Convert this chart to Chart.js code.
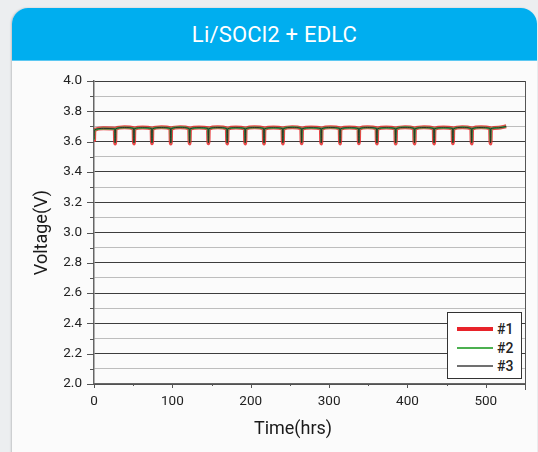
<!DOCTYPE html>
<html>
<head>
<meta charset="utf-8">
<script src="https://cdn.jsdelivr.net/npm/chart.js@4/dist/chart.umd.min.js"></script>
<style>
  html, body { margin: 0; padding: 0; }
  body { width: 538px; height: 452px; overflow: hidden; background: #eceef0; position: relative; font-family: Roboto, "DejaVu Sans", sans-serif; }
  .card { position: absolute; left: 12px; top: 8px; width: 525px; height: 470px; border-radius: 16px; background: #fbfbfb; box-shadow: -1px 0 2px rgba(0,0,0,0.18); overflow: hidden; }
  .card-head { height: 52px; background: #00aeef; color: #fff; text-align: center; font-size: 22px; line-height: 54px; border-bottom: 1px solid #5cc8f2; letter-spacing: 0.2px; }
  #chart { position: absolute; left: 0; top: 0; }
  #legend { position: absolute; background: #fff; border: 1px solid #333; box-sizing: border-box; padding-top: 7px; }
  #legend .row { display: flex; align-items: center; height: 18.5px; }
  #legend .swatch { width: 36px; margin-left: 9px; margin-right: 4px; }
  #legend .lbl { font-size: 14px; font-weight: 500; color: #222; }
</style>
</head>
<body>
<div class="card"><div class="card-head">Li/SOCl2 + EDLC</div></div>
<canvas id="chart" width="538" height="452"></canvas>
<div id="legend"></div>
<script>
// Elapsed time (hrs); each cell cycle: pulse dip, recovery, crest, pre-pulse level
const hours = [
  0, 0.5, 12, 26.5,
  27, 27.5, 39, 50.5,
  51, 51.5, 62, 73.5,
  74, 74.5, 86, 97.5,
  98, 98.5, 110, 121.5,
  122, 122.5, 134, 145.5,
  146, 146.5, 158, 169.5,
  170, 170.5, 181, 192.5,
  193, 193.5, 205, 216.5,
  217, 217.5, 229, 240.5,
  241, 241.5, 253, 264.5,
  265, 265.5, 277, 289.5,
  290, 290.5, 302, 313.5,
  314, 314.5, 326, 337.5,
  338, 338.5, 349, 360.5,
  361, 361.5, 373, 384.5,
  385, 385.5, 397, 408.5,
  409, 409.5, 421, 433.5,
  434, 434.5, 446, 457.5,
  458, 458.5, 470, 481.5,
  482, 482.5, 494, 505.5,
  506, 506.5, 516, 526
];

// Cell voltage (V)
const cell1 = [
  3.600, 3.677, 3.688, 3.685,
  3.588, 3.685, 3.694, 3.688,
  3.588, 3.686, 3.693, 3.687,
  3.589, 3.685, 3.694, 3.688,
  3.587, 3.686, 3.695, 3.687,
  3.588, 3.685, 3.693, 3.688,
  3.589, 3.686, 3.694, 3.687,
  3.588, 3.685, 3.693, 3.687,
  3.588, 3.686, 3.694, 3.688,
  3.587, 3.685, 3.693, 3.687,
  3.588, 3.686, 3.695, 3.688,
  3.589, 3.685, 3.693, 3.687,
  3.588, 3.686, 3.694, 3.688,
  3.588, 3.685, 3.693, 3.687,
  3.589, 3.686, 3.694, 3.688,
  3.588, 3.685, 3.693, 3.687,
  3.587, 3.686, 3.695, 3.688,
  3.588, 3.685, 3.694, 3.687,
  3.588, 3.686, 3.693, 3.688,
  3.589, 3.685, 3.695, 3.687,
  3.588, 3.686, 3.694, 3.688,
  3.588, 3.686, 3.692, 3.701
];

const cell2 = [
  3.610, 3.675, 3.687, 3.684,
  3.595, 3.684, 3.693, 3.687,
  3.595, 3.685, 3.692, 3.686,
  3.596, 3.684, 3.693, 3.687,
  3.594, 3.685, 3.694, 3.686,
  3.595, 3.684, 3.692, 3.687,
  3.596, 3.685, 3.693, 3.686,
  3.595, 3.684, 3.692, 3.686,
  3.595, 3.685, 3.693, 3.687,
  3.594, 3.684, 3.692, 3.686,
  3.595, 3.685, 3.694, 3.687,
  3.596, 3.684, 3.692, 3.686,
  3.595, 3.685, 3.693, 3.687,
  3.595, 3.684, 3.692, 3.686,
  3.596, 3.685, 3.693, 3.687,
  3.595, 3.684, 3.692, 3.686,
  3.594, 3.685, 3.694, 3.687,
  3.595, 3.684, 3.693, 3.686,
  3.595, 3.685, 3.692, 3.687,
  3.596, 3.684, 3.694, 3.686,
  3.595, 3.685, 3.693, 3.687,
  3.595, 3.685, 3.691, 3.700
];

const cell3 = [
  3.615, 3.676, 3.687, 3.684,
  3.592, 3.684, 3.693, 3.687,
  3.591, 3.685, 3.692, 3.686,
  3.592, 3.684, 3.693, 3.687,
  3.591, 3.685, 3.694, 3.686,
  3.592, 3.684, 3.692, 3.687,
  3.592, 3.685, 3.693, 3.686,
  3.591, 3.684, 3.692, 3.686,
  3.592, 3.685, 3.693, 3.687,
  3.591, 3.684, 3.692, 3.686,
  3.592, 3.685, 3.694, 3.687,
  3.592, 3.684, 3.692, 3.686,
  3.591, 3.685, 3.693, 3.687,
  3.592, 3.684, 3.692, 3.686,
  3.592, 3.685, 3.693, 3.687,
  3.591, 3.684, 3.692, 3.686,
  3.592, 3.685, 3.694, 3.687,
  3.592, 3.684, 3.693, 3.686,
  3.591, 3.685, 3.692, 3.687,
  3.592, 3.684, 3.694, 3.686,
  3.592, 3.685, 3.693, 3.687,
  3.591, 3.685, 3.691, 3.700
];

const seriesLabels = ['#1', '#2', '#3'];
const yLabelValues = [2.0, 2.2, 2.4, 2.6, 2.8, 3.0, 3.2, 3.4, 3.6, 3.8, 4.0];
const xLabelValues = [0, 100, 200, 300, 400, 500];

const toPoints = vals => vals.map((v, i) => ({ x: hours[i], y: v }));
const isMajorY = v => yLabelValues.some(t => Math.abs(t - v) < 1e-6);
const isLabelX = v => xLabelValues.includes(Math.round(v));

const FONT = 'Roboto, "DejaVu Sans", sans-serif';

// Tick marks of two lengths, the right frame edge and the x-axis caption
const frame = {
  id: 'frame',
  afterDraw(chart) {
    const { ctx, chartArea: a, scales: { x, y } } = chart;
    ctx.save();
    ctx.strokeStyle = '#555';
    ctx.lineWidth = 1;
    ctx.beginPath();
    y.ticks.forEach(t => {
      const py = Math.round(y.getPixelForValue(t.value)) + 0.5;
      const len = isMajorY(t.value) ? 7 : 4;
      ctx.moveTo(a.left - len, py); ctx.lineTo(a.left, py);
    });
    x.ticks.forEach(t => {
      const px = Math.round(x.getPixelForValue(t.value)) + 0.5;
      const len = t.value === x.max ? 6 : (isLabelX(t.value) ? 4 : 2);
      ctx.moveTo(px, a.bottom); ctx.lineTo(px, a.bottom + len);
    });
    ctx.moveTo(Math.round(a.right) + 0.5, a.top);
    ctx.lineTo(Math.round(a.right) + 0.5, a.bottom);
    ctx.stroke();

    ctx.fillStyle = '#1a1a1a';
    ctx.font = '18px ' + FONT;
    ctx.textAlign = 'center';
    ctx.textBaseline = 'middle';
    ctx.fillText('Time(hrs)', a.left + 199, 429);
    ctx.restore();
  }
};

// Boxed legend inside the lower right of the plot
const boxLegend = {
  id: 'boxLegend',
  afterRender(chart) {
    const el = document.getElementById('legend');
    const a = chart.chartArea;
    const w = 75, h = 67;
    el.style.left = (a.right - 3 - w) + 'px';
    el.style.top = (a.bottom - 5 - h) + 'px';
    el.style.width = w + 'px';
    el.style.height = h + 'px';
    el.innerHTML = chart.data.datasets.map(ds =>
      `<div class="row"><div class="swatch" style="border-top:${ds.legendWidth}px solid ${ds.legendColor}"></div><span class="lbl">${ds.label}</span></div>`
    ).join('');
  }
};

new Chart(document.getElementById('chart'), {
  type: 'line',
  data: {
    datasets: [
      { label: seriesLabels[0], data: toPoints(cell1), borderColor: 'rgba(232,38,40,0.85)', borderWidth: 4, order: 3, legendColor: '#e8232a', legendWidth: 4 },
      { label: seriesLabels[1], data: toPoints(cell2), borderColor: '#3fae47', borderWidth: 2, order: 2, legendColor: '#4cb050', legendWidth: 2 },
      { label: seriesLabels[2], data: toPoints(cell3), borderColor: '#2b2f2a', borderWidth: 1, order: 1, legendColor: '#707070', legendWidth: 2 }
    ]
  },
  options: {
    responsive: false,
    animation: false,
    devicePixelRatio: 1,
    elements: {
      point: { radius: 0 },
      line: { cubicInterpolationMode: 'monotone', borderJoinStyle: 'round', fill: false }
    },
    layout: { padding: { left: 0, right: 13, top: 81, bottom: 0 } },
    plugins: {
      legend: { display: false },
      tooltip: { enabled: false }
    },
    scales: {
      x: {
        type: 'linear',
        min: 0, max: 550,
        afterFit(s) { s.height = 68; },
        border: { display: true, color: '#666', width: 1.5 },
        grid: { display: false, drawTicks: true, tickLength: 5 },
        ticks: {
          stepSize: 50, autoSkip: false, maxRotation: 0, padding: 5,
          color: '#222', font: { family: FONT, size: 13.5 },
          callback: v => (isLabelX(v) ? String(Math.round(v)) : '')
        }
      },
      y: {
        min: 2, max: 4,
        afterFit(s) { s.width = 94; },
        border: { display: true, color: '#666', width: 1.5 },
        grid: {
          drawTicks: true, tickLength: 7, tickColor: 'transparent',
          color: c => (isMajorY(c.tick.value) ? '#3d3d3d' : '#bdbdbd'),
          lineWidth: 1
        },
        ticks: {
          stepSize: 0.1, autoSkip: false, padding: 5,
          color: '#222', font: { family: FONT, size: 13.5 },
          callback: v => (isMajorY(v) ? v.toFixed(1) : '')
        },
        title: {
          display: true, text: 'Voltage(V)', color: '#1a1a1a',
          font: { family: FONT, size: 18, weight: 'normal' },
          padding: { top: 32, bottom: 0 }
        }
      }
    }
  },
  plugins: [frame, boxLegend]
});
</script>
</body>
</html>
